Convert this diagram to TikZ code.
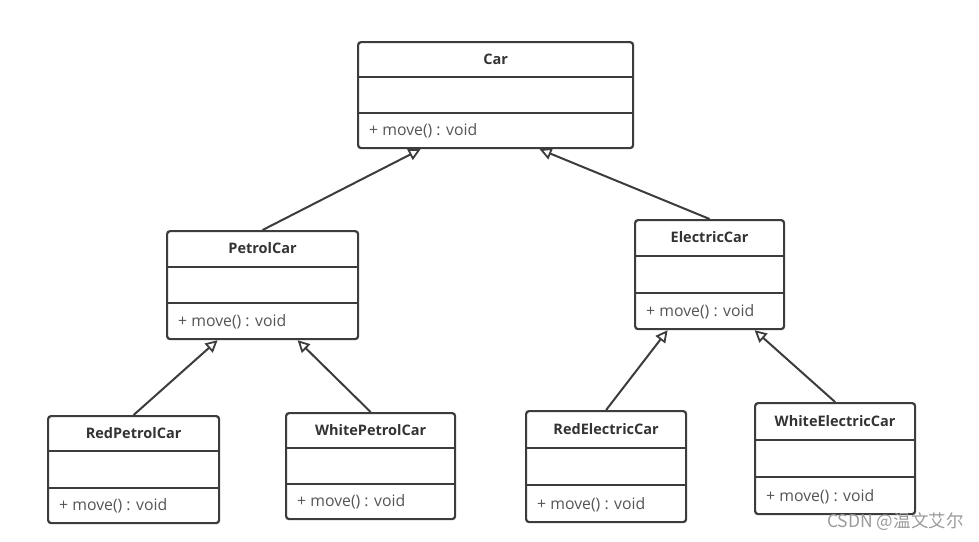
\documentclass[tikz,border=0pt]{standalone}
\usepackage{fontspec}
\setmainfont{Open Sans}
\newfontfamily\cjk{Noto Sans CJK SC}
\usetikzlibrary{calc,arrows.meta}
\definecolor{boxline}{HTML}{3C3C3C}
\definecolor{titlecol}{HTML}{333333}
\definecolor{methcol}{HTML}{555555}
\definecolor{wmcol}{HTML}{9A9A9A}
\tikzset{
  classbox/.style={draw=boxline, line width=2.2pt, rounded corners=3pt, fill=white, inner sep=0pt},
  divline/.style={draw=boxline, line width=2pt},
  titletext/.style={font=\fontsize{14.5}{17}\selectfont\bfseries, text=titlecol, inner sep=0pt},
  methtext/.style={font=\fontsize{15.8}{18}\selectfont, text=methcol, inner sep=0pt, anchor=west},
  inherit/.style={draw=boxline, line width=2pt, -{Triangle[open, length=12pt, width=12pt, line width=1.8pt]}},
}
% name, x1, y1, x2, y2, title
\newcommand\umlclass[6]{%
  \node[classbox, anchor=north west, minimum width={(#4-#2)*1pt}, minimum height={(#5-#3)*1pt}] (#1) at (#2,#3) {};
  \draw[divline] ($(#1.north west)!1/3!(#1.south west)$) -- ($(#1.north east)!1/3!(#1.south east)$);
  \draw[divline] ($(#1.north west)!2/3!(#1.south west)$) -- ($(#1.north east)!2/3!(#1.south east)$);
  \node[titletext] (#1-title) at ($(#1.north)!1/6!(#1.south)$) {#6};
  \node[methtext] (#1-meth) at ($(#1.north west)!5/6!(#1.south west)+(12,0)$) {+ move() : void};
}
\begin{document}
\begin{tikzpicture}[x=1pt,y=-1pt]
\useasboundingbox (0,0) rectangle (979,541);
\umlclass{car}{357}{41}{632}{147}{Car}
\umlclass{petrol}{166}{230}{357}{338}{PetrolCar}
\umlclass{electric}{634}{219}{783}{328}{ElectricCar}
\umlclass{redpetrol}{47}{415}{218}{522}{RedPetrolCar}
\umlclass{whitepetrol}{285}{412}{454}{518}{WhitePetrolCar}
\umlclass{redelectric}{525}{410}{685}{521}{RedElectricCar}
\umlclass{whiteelectric}{754}{402}{914}{513}{WhiteElectricCar}

\draw[inherit] (petrol.north) -- ($(car.south)+(-75,0)$);
\draw[inherit] (electric.north) -- ($(car.south)+(44,0)$);
\draw[inherit] (redpetrol.north) -- ($(petrol.south)+(-45,0)$);
\draw[inherit] (whitepetrol.north) -- ($(petrol.south)+(35,0)$);
\draw[inherit] (redelectric.north) -- ($(electric.south)+(-42,0)$);
\draw[inherit] (whiteelectric.north) -- ($(electric.south)+(45,0)$);

\node[anchor=west, inner sep=0pt, text=wmcol, font=\cjk\fontsize{17.5}{20}\selectfont] (wm) at (827,522) {CSDN @温文艾尔};
\end{tikzpicture}
\end{document}
